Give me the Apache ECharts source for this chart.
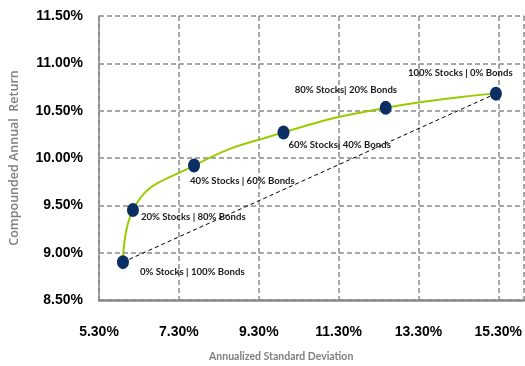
<!DOCTYPE html>
<html>
<head>
<meta charset="utf-8">
<script src="https://cdn.jsdelivr.net/npm/echarts@6/dist/echarts.min.js"></script>
<style>
  html, body { margin: 0; padding: 0; background: #fff; }
  #main { width: 525px; height: 366px; }
</style>
</head>
<body>
<div id="main"></div>
<script>
let chart = echarts.init(document.getElementById('main'));

// Portfolio mixes
const mixes = ['0% Stocks | 100% Bonds', '20% Stocks | 80% Bonds', '40% Stocks | 60% Bonds',
               '60% Stocks| 40% Bonds', '80% Stocks| 20% Bonds', '100% Stocks | 0% Bonds'];
const stdDev = [5.90, 6.15, 7.68, 9.92, 12.48, 15.24];     // annualized std deviation, %
const annReturn = [8.90, 9.45, 9.92, 10.27, 10.53, 10.68];  // compounded annual return, %

// label placement (px from the marker centre) - layout only
const labelOffsets = [[17, 10], [8, 7], [-4, 15], [5, 12], [-91, -18], [-88, -21]];

const grey = '#8a8a8a';
const narrow = 'Lato, sans-serif';
const pts = stdDev.map((x, i) => [x, annReturn[i]]);

let option = {
    animation: false,
    grid: { left: 98, top: 16, right: 0, bottom: 66 },
    xAxis: {
        type: 'value',
        min: 5.3,
        max: 15.94,
        interval: 2,
        axisLine: { show: true, lineStyle: { color: grey, width: 2.5 } },
        axisTick: { show: false },
        splitLine: { show: true, lineStyle: { color: grey, width: 1.5, type: [5, 3] } },
        axisLabel: {
            showMaxLabel: false,
            margin: 25,
            color: '#000',
            fontFamily: 'Liberation Sans',
            fontWeight: 'bold',
            fontSize: 14,
            formatter: v => v.toFixed(2) + '%'
        }
    },
    yAxis: {
        type: 'value',
        min: 8.5,
        max: 11.5,
        interval: 0.5,
        name: 'Compounded Annual  Return',
        nameLocation: 'middle',
        nameGap: 78,
        nameTextStyle: { color: '#7f7f7f', fontFamily: 'Open Sans', fontWeight: 600, fontSize: 12.5 },
        axisLine: { show: true, lineStyle: { color: grey, width: 1.5 } },
        axisTick: { show: false },
        splitLine: { show: true, lineStyle: { color: grey, width: 1.5, type: [5, 3] } },
        axisLabel: {
            margin: 16,
            color: '#000',
            fontFamily: 'Liberation Sans',
            fontWeight: 'bold',
            fontSize: 14,
            formatter: v => v.toFixed(2) + '%'
        }
    },
    graphic: [{
        type: 'text',
        left: 209,
        top: 351,
        style: {
            text: 'Annualized Standard Deviation',
            fill: '#7f7f7f',
            font: 'bold 10.5px ' + narrow
        }
    }],
    series: [
        {
            // straight dashed line from all-bonds to all-stocks
            type: 'line',
            data: [pts[0], pts[pts.length - 1]],
            showSymbol: false,
            lineStyle: { color: '#000', width: 1, type: [4, 3] },
            z: 2
        },
        {
            type: 'line',
            data: pts,
            smooth: 0.5,
            showSymbol: false,
            lineStyle: { color: '#99cc00', width: 2 },
            z: 3
        },
        {
            type: 'scatter',
            symbol: 'circle',
            symbolSize: [12, 14],
            itemStyle: { color: '#0b2f63', opacity: 1 },
            data: pts.map((p, i) => ({
                value: p,
                label: {
                    show: true,
                    formatter: mixes[i],
                    position: 'inside',
                    align: 'left',
                    verticalAlign: 'middle',
                    offset: labelOffsets[i],
                    color: '#1a1a1a',
                    fontFamily: narrow,
                    fontWeight: 'bold',
                    fontSize: 9.6
                }
            })),
            z: 4
        }
    ]
};

chart.setOption(option);
</script>
</body>
</html>
